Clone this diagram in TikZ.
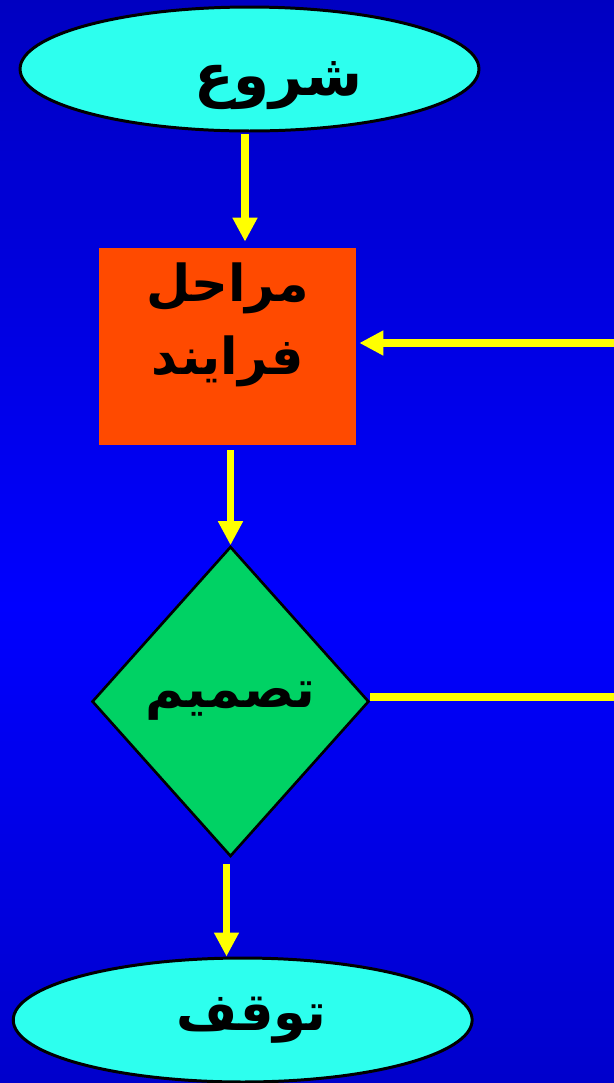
\documentclass[tikz,border=0pt]{standalone}
\usepackage{fontspec}
\usetikzlibrary{arrows.meta,calc,positioning,shapes.geometric}
\TeXXeTstate=1
\newfontfamily\arabicfont[Script=Arabic]{DejaVu Sans}
\definecolor{DeepNavy}{RGB}{0,0,138}
\definecolor{LowNavy}{RGB}{0,0,145}
\definecolor{PureBlue}{RGB}{0,0,255}
\definecolor{TermCyan}{RGB}{45,255,238}
\definecolor{StepOrange}{RGB}{255,74,0}
\definecolor{GateGreen}{RGB}{0,210,100}
\definecolor{FlowYellow}{RGB}{255,255,0}
\pgfdeclareverticalshading{bgfade}{100bp}{color(0bp)=(LowNavy);
  color(47bp)=(PureBlue); color(100bp)=(DeepNavy)}

\begin{document}
\begin{tikzpicture}[x=0.02cm,y=-0.02cm,>=Latex,
    term/.style={ellipse,draw=black,line width=1.7pt,fill=TermCyan,
      minimum width=9.18cm,minimum height=2.48cm,inner sep=0pt,
      font=\arabicfont\bfseries\fontsize{33}{42}\selectfont},
    stepbox/.style={rectangle,fill=StepOrange,minimum width=5.14cm,
      minimum height=3.94cm,inner sep=0pt,
      font=\arabicfont\bfseries\fontsize{29}{41.5}\selectfont},
    gate/.style={diamond,draw=black,line width=1.5pt,fill=GateGreen,
      minimum width=5.54cm,minimum height=6.2cm,inner sep=0pt,
      font=\arabicfont\bfseries\fontsize{30}{40}\selectfont},
    flow/.style={draw=FlowYellow,line width=0.15cm,
      -{Triangle[width=0.47cm,length=0.48cm]}},
    flowline/.style={draw=FlowYellow,line width=0.15cm}]
      % background
      \shade[shading=bgfade] (0,0) rectangle (614,1083);
      \useasboundingbox (0,0) rectangle (614,1083);
      % nodes
      \node[term] (start) at (249.5,69)
        {\hspace{1.16cm}\rule{0pt}{1.35cm}\beginR شروع\endR};
      \node[stepbox] (proc) at (227.5,346.5)
        {\parbox[c][3.94cm][t]{5cm}{\centering\vspace*{0.3cm}
          \beginR مراحل\endR\\ \beginR فرایند\endR}};
      \node[gate] (dec) at (230.5,701.5) {\beginR تصمیم\endR};
      \node[term,font=\arabicfont\bfseries\fontsize{30}{40}\selectfont]
        (stop) at (242.7,1020) {\hspace{0.36cm}\beginR توقف\endR};
      \coordinate (loopT) at (614,343);
      \coordinate (loopR) at (614,697);
      % connectors
      \draw[flow,shorten <=0.04cm,shorten >=0.12cm]
        ([xshift=-0.09cm]start.south) -- ([xshift=-0.09cm]start.south |- proc.north);
      \draw[flow,shorten <=0.1cm] (proc.south -| dec.north) -- (dec.north);
      \draw[flow,shorten <=0.12cm]
        ([xshift=-0.08cm]dec.south) -- ([xshift=-0.08cm]dec.south |- stop.north);
      \draw[flowline] (loopR -| dec.east) -- (loopR);
      \draw[flow,shorten >=0.06cm] (loopT) -- (loopT -| proc.east);
\end{tikzpicture}
\end{document}
